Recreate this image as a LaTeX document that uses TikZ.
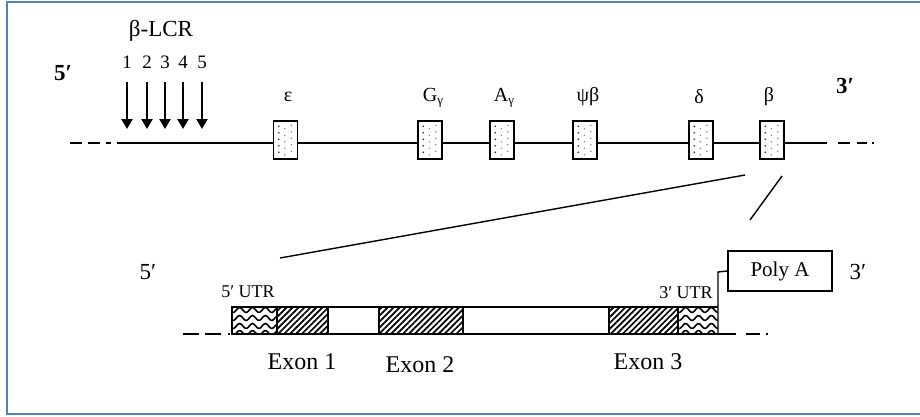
\documentclass[tikz,border=0pt]{standalone}
\usepackage{fontspec}
\setmainfont{Liberation Serif}
\usetikzlibrary{patterns.meta,arrows.meta,calc}
\definecolor{frameblue}{RGB}{84,130,190}
\tikzset{
  genebox/.style={draw, line width=1.4pt, minimum width=24pt, minimum height=38pt, inner sep=0pt, fill=white},
  glabel/.style={font=\fontsize{20}{22}\selectfont, inner sep=0pt},
  numlbl/.style={font=\fontsize{19}{20}\selectfont, inner sep=0pt},
  endlbl/.style={font=\fontsize{23}{26}\selectfont\bfseries, inner sep=0pt},
  endlbl2/.style={font=\fontsize{23}{26}\selectfont, inner sep=0pt},
  exonlbl/.style={font=\fontsize{24}{26}\selectfont, inner sep=0pt},
  utrlbl/.style={font=\fontsize{18}{20}\selectfont, inner sep=0pt},
  lcrarrow/.style={line width=2.4pt, -{Triangle[length=10pt,width=11pt]}},
  hatch/.style={pattern={Lines[angle=45,distance=4.2pt,line width=1.7pt]}},
  thinline/.style={line width=1.4pt},
}
\begin{document}
\begin{tikzpicture}[x=1pt,y=-1pt]
\useasboundingbox (0,0) rectangle (920,416);
\fill[white] (0,0) rectangle (920,416);
\draw[frameblue, line width=2pt] (7,2) rectangle (930,414);

% top gene line
\draw[line width=2pt, dash pattern=on 12pt off 6pt] (70,143) -- (111,143);
\draw[line width=2pt] (117,143) -- (827,143);
\draw[line width=2pt, dash pattern=on 12pt off 7pt on 10pt off 5pt on 2pt off 20pt] (838,143) -- (876,143);

% LCR
\node[font=\fontsize{23}{26}\selectfont, inner sep=0pt] (lcr) at (161,31) {β-LCR};
\foreach \n/\x in {1/127,2/147,3/165,4/183,5/202}{
  \node[numlbl] (n\n) at (\x,62) {\n};
  \coordinate (t\n) at (\x,82);
  \coordinate (h\n) at (\x,129);
  \draw[lcrarrow] (t\n) -- (h\n);
}

\node[endlbl] (five) at (63,73) {5′};
\node[endlbl] (three) at (845,86) {3′};

% gene boxes
\foreach \nm/\x in {eps/285.5,gg/430,ag/502,pb/585,dl/701,bt/772}{
  \node[genebox] (\nm) at (\x,140) {};
  \foreach \i in {0,...,4}{
    \fill[black!80] ($(\nm.north west)+(6,6+6.5*\i)$) circle (0.9);
    \fill[gray] ($(\nm.north west)+(12,8.5+6.5*\i)$) circle (0.8);
    \fill[gray] ($(\nm.north west)+(18.5,5+6.5*\i)$) circle (0.8);
  }
}
\node[glabel] (leps) at (288,97) {ε};
\node[glabel] (lgg) at (433,98) {G\raisebox{-3pt}{\fontsize{13}{13}\selectfont γ}};
\node[glabel] (lag) at (504,98) {A\raisebox{-3pt}{\fontsize{13}{13}\selectfont γ}};
\node[glabel] (lpb) at (588,97) {ψβ};
\node[glabel] (ldl) at (699,97) {δ};
\node[glabel] (lbt) at (769,97) {β};

% expansion lines
\coordinate (e1a) at (745,175);
\coordinate (e1b) at (280,258);
\coordinate (e2a) at (782,176);
\coordinate (e2b) at (750,220);
\draw[line width=1.4pt] (e1a) -- (e1b);
\draw[line width=1.4pt] (e2a) -- (e2b);

% bottom gene
\node[endlbl2] (b5) at (148,272) {5′};
\node[endlbl2] (b3) at (858,272) {3′};

% waves
\begin{scope}
  \clip (232,307) rectangle (277,334);
  \foreach \yy in {310,318,326,333}
    \draw[line width=1.6pt] plot[domain=226:284, samples=80] (\x, {\yy+2.4*sin((\x-230)*28)});
\end{scope}
\begin{scope}
  \clip (678,307) rectangle (718,334);
  \foreach \yy in {310,318,326,333}
    \draw[line width=1.6pt] plot[domain=672:724, samples=80] (\x, {\yy+2.4*sin((\x-676)*28)});
\end{scope}

\path[hatch] (277,307) rectangle (328,334);
\path[hatch] (379,307) rectangle (463,334);
\path[hatch] (609,307) rectangle (678,334);
\draw[thinline] (277,307) -- (277,334);
\draw[thinline] (328,307) -- (328,334);
\draw[thinline] (379,307) -- (379,334);
\draw[thinline] (463,307) -- (463,334);
\draw[thinline] (609,307) -- (609,334);
\draw[thinline] (678,307) -- (678,334);

\draw[thinline] (718,307) -- (232,307) -- (232,334) -- (736,334);
\draw[thinline, dash pattern=on 16pt off 6pt] (183,334) -- (226,334);
\draw[thinline] (228,334) -- (230,334);
\draw[thinline, dash pattern=on 14pt off 6pt on 2pt off 30pt] (746,334) -- (790,334);

\node[draw, line width=1.4pt, minimum width=104pt, minimum height=40pt, inner sep=0pt,
      font=\fontsize{21}{24}\selectfont] (polya) at (780,271) {Poly A};
\coordinate (utrend) at (718,334);
\draw[thinline] (utrend) -- (718,272) -- (polya.west);

\node[utrlbl] (u5) at (248,292) {5′ UTR};
\node[utrlbl] (u3) at (686,293) {3′ UTR};

\node[exonlbl] (x1) at (302,362) {Exon 1};
\node[exonlbl] (x2) at (420,365) {Exon 2};
\node[exonlbl] (x3) at (648,362) {Exon 3};
\end{tikzpicture}
\end{document}
